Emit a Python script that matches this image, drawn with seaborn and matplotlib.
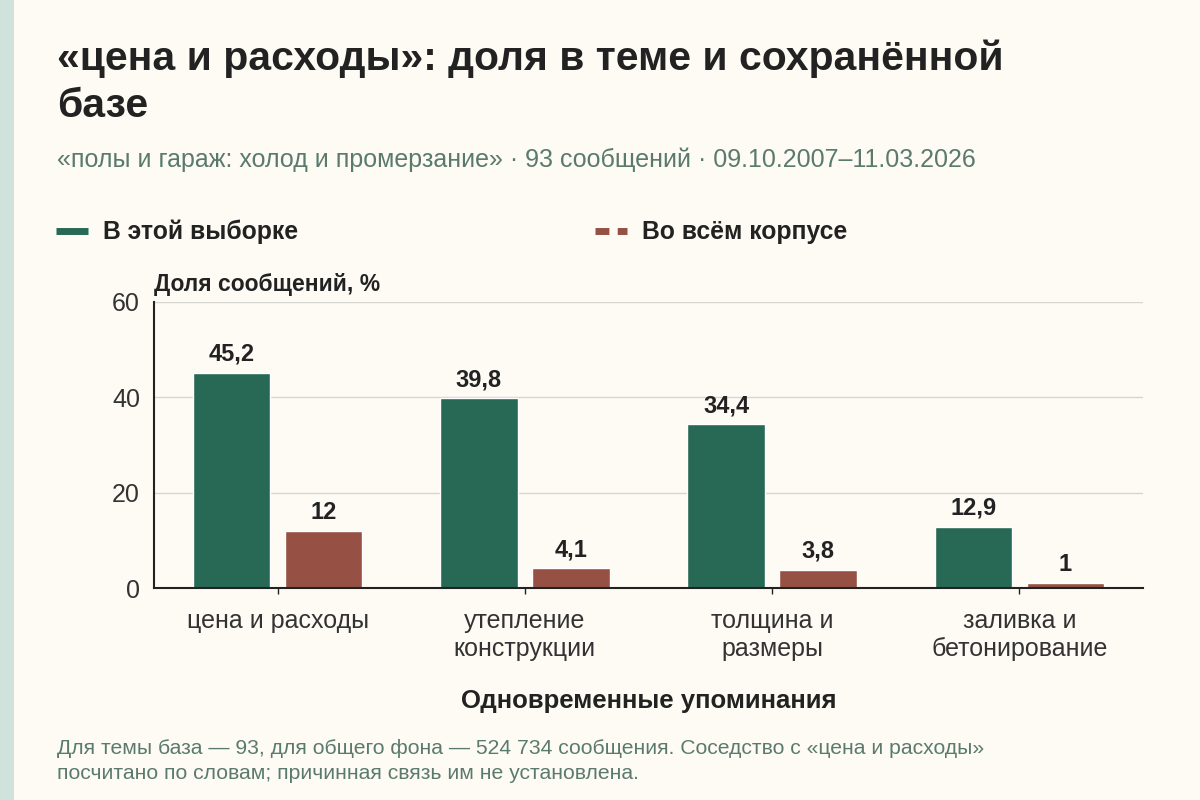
import matplotlib
matplotlib.use("Agg")
import matplotlib.pyplot as plt
from matplotlib.lines import Line2D
from matplotlib.patches import Rectangle
import seaborn as sns
import pandas as pd

# data
categories = ["цена и расходы", "утепление\nконструкции", "толщина и\nразмеры", "заливка и\nбетонирование"]
sample_share = [45.2, 39.8, 34.4, 12.9]
corpus_share = [12.0, 4.1, 3.8, 1.0]
series_names = ["В этой выборке", "Во всём корпусе"]

BG = "#FDFBF4"
GREEN = "#276955"
RED = "#975144"
MUTED = "#5B7A6E"
DARK = "#222222"

df = pd.DataFrame({
    "cat": categories * 2,
    "val": sample_share + corpus_share,
    "series": [series_names[0]] * 4 + [series_names[1]] * 4,
})

sns.set_theme(style="white")
plt.rcParams["font.family"] = ["Liberation Sans", "DejaVu Sans"]

fig = plt.figure(figsize=(12, 8), dpi=100, facecolor=BG)
ax = fig.add_axes([154 / 1200, 1 - 588 / 800, (1143 - 154) / 1200, (588 - 302) / 800])
ax.set_facecolor(BG)

sns.barplot(data=df, x="cat", y="val", hue="series", order=categories,
            hue_order=series_names, palette=[GREEN, RED], width=0.745, gap=0.16,
            saturation=1, legend=False, ax=ax)

# value labels
for cont in ax.containers:
    labels = [f"{v:g}".replace(".", ",") for v in cont.datavalues]
    ax.bar_label(cont, labels=labels, padding=5, fontsize=17, fontweight="bold", color=DARK)

ax.set_ylim(0, 60)
ax.set_yticks([0, 20, 40, 60])
ax.yaxis.grid(True, color="#D6D6D0", linewidth=1)
ax.set_axisbelow(True)
for s in ["top", "right"]:
    ax.spines[s].set_visible(False)
ax.spines["left"].set_color(DARK)
ax.spines["bottom"].set_color(DARK)
ax.spines["left"].set_linewidth(1.5)
ax.spines["bottom"].set_linewidth(1.5)
ax.tick_params(axis="y", length=0, labelsize=18, labelcolor="#333333", pad=10)
ax.tick_params(axis="x", length=4, width=1, color=DARK, labelsize=18, labelcolor="#333333", pad=11,
               bottom=True)
for lbl in ax.get_xticklabels():
    lbl.set_linespacing(1.22)
ax.set_ylabel("")
ax.set_xlabel("Одновременные упоминания", fontsize=18.5, fontweight="bold", color=DARK, labelpad=20)
ax.text(0, 1.02, "Доля сообщений, %", transform=ax.transAxes, fontsize=16.5,
        fontweight="bold", color=DARK, ha="left", va="bottom")

# left accent strip
fig.patches.append(Rectangle((0, 0), 14 / 1200, 1, transform=fig.transFigure,
                             facecolor="#CFE3DC", edgecolor="none"))

# title block
fig.text(57 / 1200, 1 - 39 / 800, "«цена и расходы»: доля в теме и сохранённой\nбазе",
         fontsize=29.4, fontweight="bold", color=DARK, ha="left", va="top", linespacing=1.33)
fig.text(57 / 1200, 1 - 160 / 800,
         "«полы и гараж: холод и промерзание» · 93 сообщений · 09.10.2007–11.03.2026",
         fontsize=18, color=MUTED, ha="left", va="center")

# legend
handles = [Line2D([], [], color=GREEN, lw=5, solid_capstyle="butt"),
           Line2D([], [], color=RED, lw=5, linestyle=(0, (2, 1.2)), dash_capstyle="butt")]
leg = fig.legend(handles, series_names, loc="center left", bbox_to_anchor=(34 / 1200, 1 - 232 / 800),
                 ncol=2, frameon=False, handlelength=1.3, handletextpad=0.6, columnspacing=12.0,
                 prop={"size": 17.8, "weight": "bold"})
for t in leg.get_texts():
    t.set_color(DARK)

# footer
fig.text(57 / 1200, 1 - 761 / 800,
         "Для темы база — 93, для общего фона — 524 734 сообщения. Соседство с «цена и расходы»\n"
         "посчитано по словам; причинная связь им не установлена.",
         fontsize=15.2, color=MUTED, ha="left", va="center", linespacing=1.4)

fig.savefig("out.png", dpi=100, facecolor=BG)
